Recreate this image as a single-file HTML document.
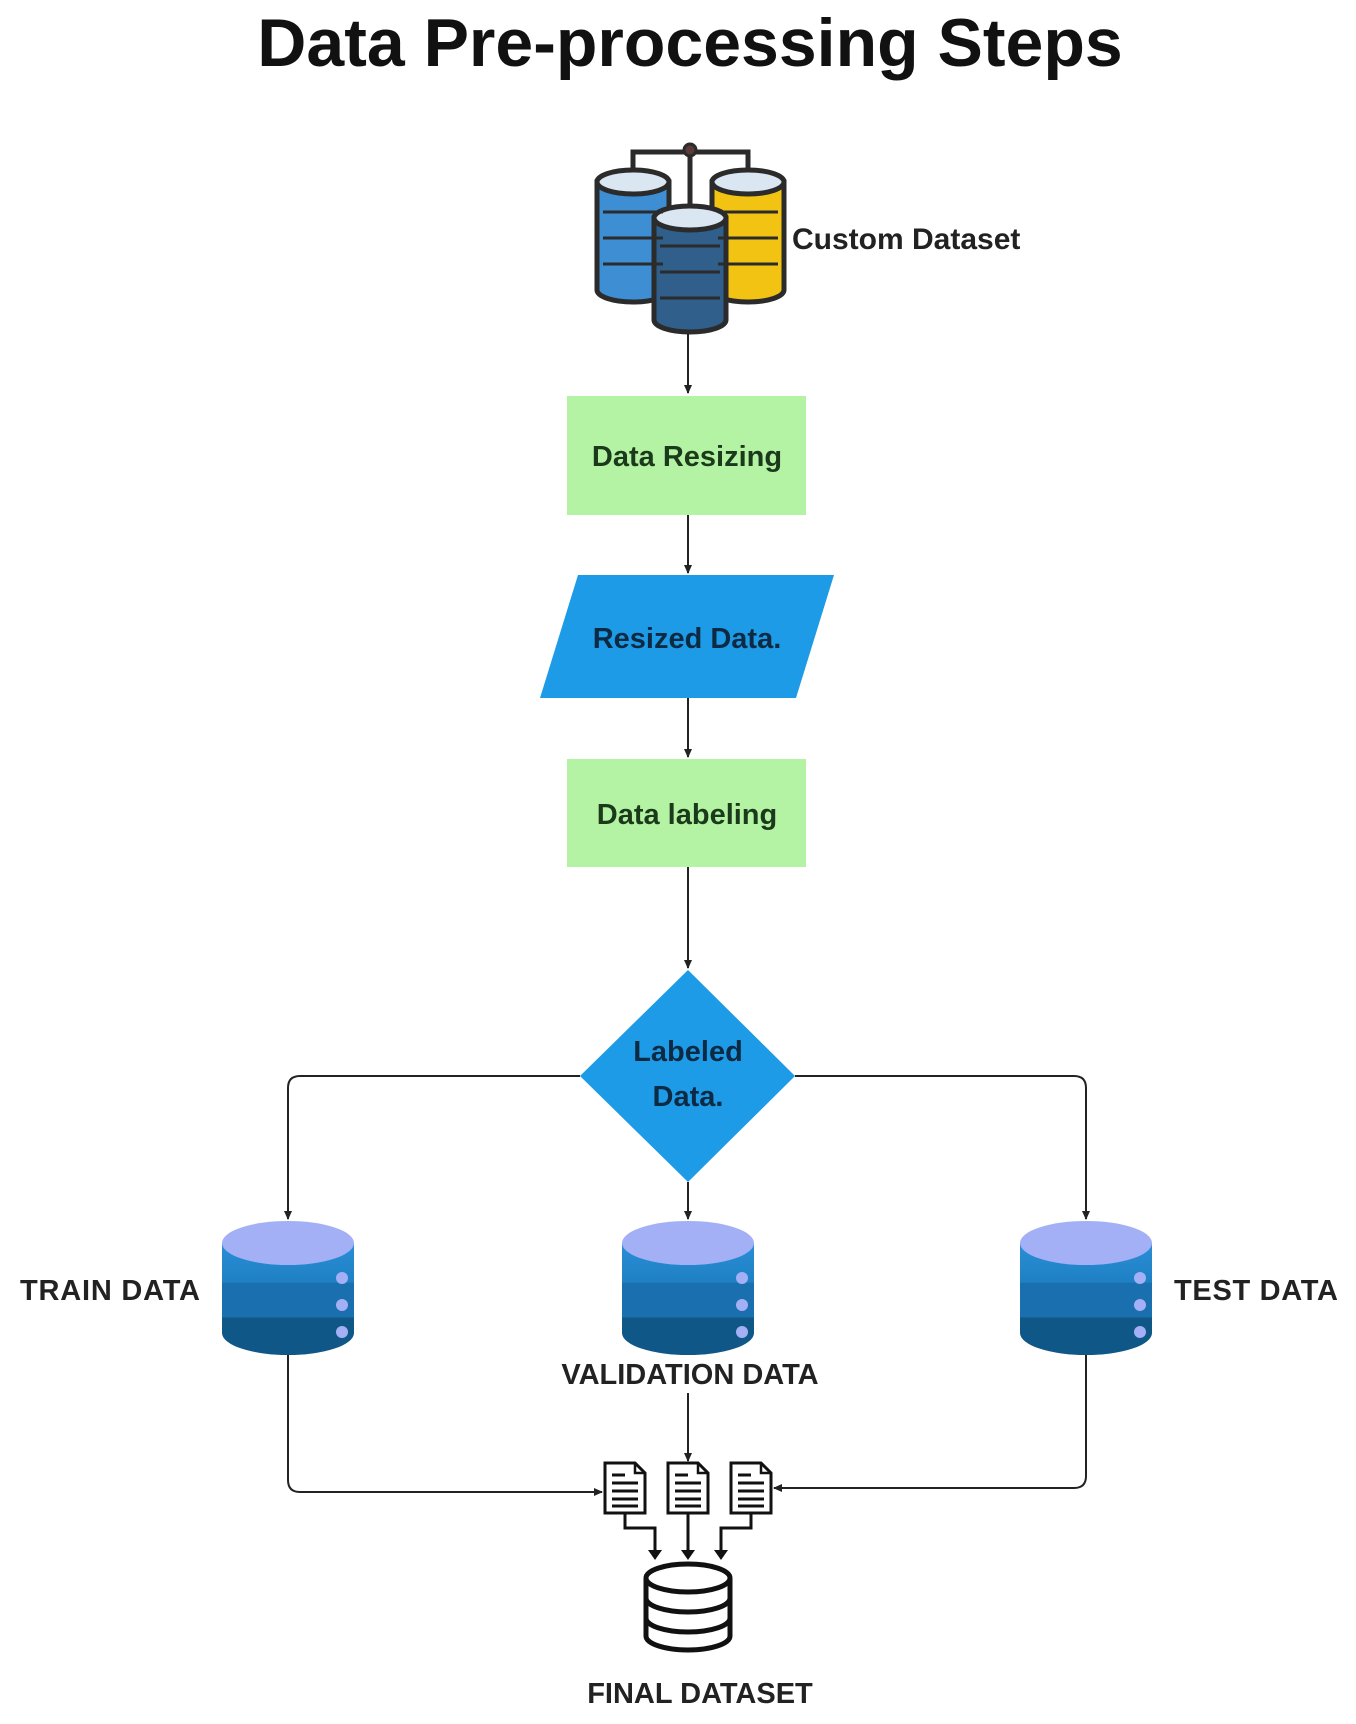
<!DOCTYPE html>
<html><head><meta charset="utf-8"><style>
html,body{margin:0;padding:0;background:#fff}
svg{display:block}
text{font-family:"Liberation Sans",sans-serif;font-weight:bold}
</style></head><body>
<svg width="1356" height="1724" viewBox="0 0 1356 1724" xmlns="http://www.w3.org/2000/svg">
<defs>
<marker id="ar" markerWidth="10" markerHeight="10" refX="8" refY="5" orient="auto" markerUnits="userSpaceOnUse">
<path d="M0,1 L9,5 L0,9 z" fill="#222"/></marker>
<linearGradient id="cyl" x1="0" y1="0" x2="0" y2="1">
<stop offset="0" stop-color="#2a8fd6"/><stop offset="0.35" stop-color="#1f80c4"/><stop offset="0.36" stop-color="#1a6fae"/><stop offset="0.66" stop-color="#1a6fae"/><stop offset="0.67" stop-color="#0f5787"/><stop offset="1" stop-color="#0f5787"/></linearGradient>
<g id="db">
<path d="M0,22 L0,112 A66,22 0 0 0 132,112 L132,22 Z" fill="url(#cyl)"/>
<ellipse cx="66" cy="22" rx="66" ry="22" fill="#a3b0f5"/>
<circle cx="120" cy="57" r="6" fill="#a3b0f5"/><circle cx="120" cy="84" r="6" fill="#a3b0f5"/><circle cx="120" cy="111" r="6" fill="#a3b0f5"/>
</g>
<g id="doc">
<path d="M0,0 L30,0 L40,10 L40,50 L0,50 Z" fill="#fff" stroke="#111" stroke-width="3"/>
<path d="M30,0 L30,10 L40,10" fill="none" stroke="#111" stroke-width="2.5"/>
<path d="M7,12 H20 M7,20 H33 M7,28 H33 M7,36 H33 M7,43 H33" stroke="#111" stroke-width="3"/>
</g>
</defs>

<text x="690" y="66" text-anchor="middle" font-size="68" fill="#111">Data Pre-processing Steps</text>

<g stroke="#2b2b2b" stroke-width="5" fill="none">
<path d="M633,185 V152 H748 V185"/><path d="M690,152 V225"/>
</g>
<circle cx="690" cy="150" r="6" fill="#5a3a3a" stroke="#2b2b2b" stroke-width="3"/>
<g stroke="#2b2b2b" stroke-width="5">
<path d="M597,182 V290 A36,12 0 0 0 669,290 V182 Z" fill="#3d8ed3"/>
<ellipse cx="633" cy="182" rx="36" ry="12" fill="#dbe6f3"/>
<path d="M712,182 V290 A36,12 0 0 0 784,290 V182 Z" fill="#f2c313"/>
<ellipse cx="748" cy="182" rx="36" ry="12" fill="#dbe6f3"/>
<path d="M654,218 V320 A36,12 0 0 0 726,320 V218 Z" fill="#2f5f8a"/>
<ellipse cx="690" cy="218" rx="36" ry="12" fill="#dbe6f3"/>
</g>
<g stroke="#2b2b2b" stroke-width="3" fill="none">
<path d="M603,212 H663 M603,238 H663 M603,264 H663 M718,212 H778 M718,238 H778 M718,264 H778 M660,246 H720 M660,272 H720 M660,298 H720"/>
</g>
<text x="792" y="249" font-size="30" fill="#222">Custom Dataset</text>

<g stroke="#222" stroke-width="2" fill="none">
<path d="M688,334 V393" marker-end="url(#ar)"/>
<path d="M688,515 V573" marker-end="url(#ar)"/>
<path d="M688,698 V757" marker-end="url(#ar)"/>
<path d="M688,867 V968" marker-end="url(#ar)"/>
<path d="M580,1076 H300 Q288,1076 288,1088 V1219" marker-end="url(#ar)"/>
<path d="M795,1076 H1074 Q1086,1076 1086,1088 V1219" marker-end="url(#ar)"/>
<path d="M688,1182 V1219" marker-end="url(#ar)"/>
<path d="M288,1353 V1480 Q288,1492 300,1492 H602" marker-end="url(#ar)"/>
<path d="M1086,1353 V1476 Q1086,1488 1074,1488 H774" marker-end="url(#ar)"/>
<path d="M688,1393 V1461" marker-end="url(#ar)"/>
</g>

<rect x="567" y="396" width="239" height="119" fill="#b4f3a3"/>
<text x="687" y="466" text-anchor="middle" font-size="29" fill="#1b3a1b">Data Resizing</text>
<polygon points="578,575 834,575 796,698 540,698" fill="#1e9be6"/>
<text x="687" y="648" text-anchor="middle" font-size="29" fill="#0d2a44">Resized Data.</text>
<rect x="567" y="759" width="239" height="108" fill="#b4f3a3"/>
<text x="687" y="824" text-anchor="middle" font-size="29" fill="#1b3a1b">Data labeling</text>
<polygon points="688,970 795,1076 688,1182 580,1076" fill="#1e9be6"/>
<text x="688" y="1061" text-anchor="middle" font-size="29" fill="#0d2a44">Labeled</text>
<text x="688" y="1106" text-anchor="middle" font-size="29" fill="#0d2a44">Data.</text>

<use href="#db" x="222" y="1221"/>
<use href="#db" x="622" y="1221"/>
<use href="#db" x="1020" y="1221"/>
<text x="20" y="1300" font-size="29" fill="#222" textLength="180">TRAIN DATA</text>
<text x="1174" y="1300" font-size="29" fill="#222" textLength="164">TEST DATA</text>
<text x="690" y="1384" text-anchor="middle" font-size="29" fill="#222">VALIDATION DATA</text>

<use href="#doc" x="605" y="1463"/>
<use href="#doc" x="668" y="1463"/>
<use href="#doc" x="731" y="1463"/>
<g stroke="#111" stroke-width="3" fill="none">
<path d="M625,1513 V1528 H655 V1552"/><path d="M688,1513 V1552"/><path d="M751,1513 V1528 H721 V1552"/>
</g>
<g fill="#111"><path d="M648,1550 h14 l-7,10 z"/><path d="M681,1550 h14 l-7,10 z"/><path d="M714,1550 h14 l-7,10 z"/></g>
<g stroke="#111" stroke-width="5" fill="#fff">
<path d="M646,1578 V1636 A42,14 0 0 0 730,1636 V1578"/>
<ellipse cx="688" cy="1578" rx="42" ry="14"/>
<path d="M646,1598 A42,14 0 0 0 730,1598 M646,1618 A42,14 0 0 0 730,1618" fill="none"/>
</g>
<text x="700" y="1703" text-anchor="middle" font-size="29" fill="#222">FINAL DATASET</text>
</svg>
</body></html>
